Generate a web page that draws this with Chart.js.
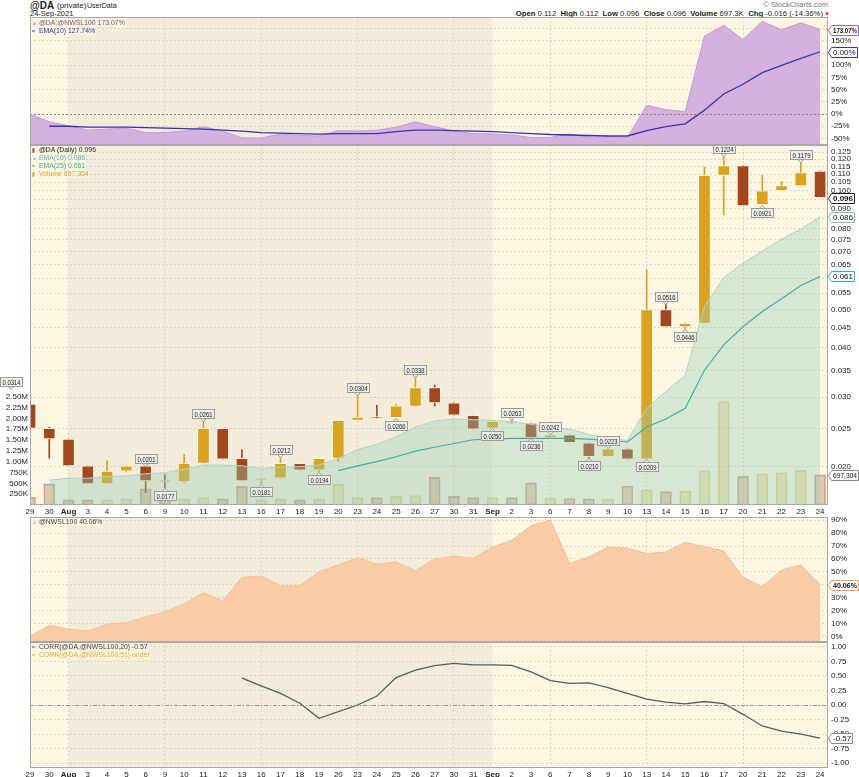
<!DOCTYPE html>
<html>
<head>
<meta charset="utf-8">
<title>@DA (Daily)</title>
<script src="https://cdn.jsdelivr.net/npm/chart.js@4.4.1/dist/chart.umd.min.js"></script>
<style>
	body { margin: 0; background: #fff; font-family: "Liberation Sans", Arial, sans-serif; color: #222; }
	#page { position: relative; width: 859px; height: 777px; overflow: hidden; }
	canvas { position: absolute; left: 0; }
	.t { position: absolute; white-space: nowrap; }
	.lg { position: absolute; left: 32px; font-size: 8px; line-height: 7px; white-space: nowrap; z-index: 3; }
	.lg div { background: rgba(253,246,228,0.6); display: table; padding-right: 1px; transform: scaleX(0.86); transform-origin: 0 0; }
	.ic { display: inline-block; width: 8px; font-size: 6px; }
</style>
</head>
<body>
<div id="page">
	<div class="t" style="left:30px;top:0px;font-size:10px;line-height:11px;font-weight:bold;">@DA</div>
	<div class="t" style="left:57px;top:1px;font-size:8px;line-height:9px;">(private)</div>
	<div class="t" style="left:87px;top:2px;font-size:7px;line-height:8px;">UserData</div>
	<div class="t" style="left:30px;top:10px;font-size:7.5px;line-height:8px;">24-Sep-2021</div>
	<div class="t" style="right:31px;top:1px;font-size:7.5px;line-height:8px;color:#777;">&copy; StockCharts.com</div>
	<div class="t" style="right:36px;top:10px;font-size:7.7px;line-height:8px;"><b>Open</b> 0.112&nbsp; <b>High</b> 0.112&nbsp; <b>Low</b> 0.096&nbsp; <b>Close</b> 0.096&nbsp; <b>Volume</b> 697.3K&nbsp; <b>Chg</b> -0.016 (-14.36%)</div>
	<div class="t" style="left:824px;top:11px;font-size:6px;line-height:7px;color:#c0392b;">&#9660;</div>

	<canvas id="ratio" width="859" height="128" style="top:17px"></canvas>
	<canvas id="main" width="859" height="372" style="top:145px"></canvas>
	<canvas id="nwsl" width="859" height="125" style="top:517px"></canvas>
	<canvas id="corr" width="859" height="135" style="top:642px"></canvas>

	<div class="lg" style="top:19px">
		<div style="color:#6d5a86"><span class="ic" style="color:#c69bd5">&#9650;</span>@DA:@NWSL100 173.07%</div>
		<div style="color:#3434b0"><span class="ic">&#9473;</span>EMA(10) 127.74%</div>
	</div>
	<div class="lg" style="top:146px">
		<div style="color:#222"><span class="ic" style="color:#a2481f">&#9646;</span>@DA (Daily) 0.096</div>
		<div style="color:#62b5a6"><span class="ic" style="color:#9fd0bc">&#9650;</span>EMA(10) 0.086</div>
		<div style="color:#3aa898"><span class="ic">&#9473;</span>EMA(25) 0.061</div>
		<div style="color:#d6a324"><span class="ic">&#9646;</span>Volume 697,304</div>
	</div>
	<div class="lg" style="top:518px">
		<div style="color:#444"><span class="ic" style="color:#f7b98c">&#9650;</span>@NWSL100 40.06%</div>
	</div>
	<div class="lg" style="top:643px">
		<div style="color:#444"><span class="ic" style="color:#4f5f60">&#9473;</span>CORR(@DA,@NWSL100,20) -0.57</div>
		<div style="color:#e0b030"><span class="ic">&#9473;</span>CORR(@DA,@NWSL100,51) undef</div>
	</div>
</div>
<script>
var dates = ['29', '30', 'Aug', '3', '4', '5', '6', '9', '10', '11', '12', '13', '16', '17', '18', '19', '20', '23', '24', '25', '26',
	'27', '30', '31', 'Sep', '2', '3', '6', '7', '8', '9', '10', '13', '14', '15', '16', '17', '20', '21', '22', '23', '24'];
var boldDates = ['Aug', 'Sep'];
var weekStarts = [2, 7, 12, 17, 22, 27, 32, 37];
var augBand = [2, 24];

// @DA daily candles
var opens = [0.0288, 0.0250, 0.0235, 0.0201, 0.0181, 0.0195, 0.0201, 0.0185, 0.0183, 0.0204, 0.0250, 0.0210, 0.0185, 0.0187,
	0.0204, 0.0196, 0.0210, 0.0262, 0.0268, 0.0266, 0.0284, 0.0317, 0.0290, 0.0270, 0.0250, 0.0261, 0.0258, 0.0237, 0.0241,
	0.0230, 0.0212, 0.0222, 0.0209, 0.0500, 0.0452, 0.0461, 0.1092, 0.1156, 0.0921, 0.0999, 0.1028, 0.112];
var highs = [0.0314, 0.0252, 0.0235, 0.0201, 0.0207, 0.0201, 0.0201, 0.0191, 0.0215, 0.0261, 0.0250, 0.0221, 0.0187, 0.0212,
	0.0204, 0.0210, 0.0262, 0.0304, 0.0286, 0.0288, 0.0338, 0.0322, 0.0290, 0.0270, 0.0261, 0.0263, 0.0258, 0.0242, 0.0241,
	0.0230, 0.0223, 0.0222, 0.0630, 0.0516, 0.0462, 0.1147, 0.1224, 0.1156, 0.1092, 0.1054, 0.1179, 0.112];
var lows = [0.0250, 0.0210, 0.0201, 0.0181, 0.0181, 0.0194, 0.0172, 0.0177, 0.0182, 0.0204, 0.0209, 0.0184, 0.0181, 0.0187,
	0.0196, 0.0194, 0.0206, 0.0262, 0.0265, 0.0266, 0.0284, 0.0285, 0.0270, 0.0249, 0.0250, 0.0258, 0.0236, 0.0237, 0.0230,
	0.0210, 0.0212, 0.0209, 0.0209, 0.0452, 0.0446, 0.0461, 0.0867, 0.0914, 0.0921, 0.0999, 0.1028, 0.096];
var closes = [0.0250, 0.0235, 0.0201, 0.0181, 0.0195, 0.0201, 0.0184, 0.0183, 0.0204, 0.0250, 0.0209, 0.0184, 0.0187, 0.0204,
	0.0196, 0.0210, 0.0262, 0.0267, 0.0265, 0.0285, 0.0317, 0.0290, 0.0270, 0.0249, 0.0261, 0.0258, 0.0237, 0.0241, 0.0230,
	0.0212, 0.0222, 0.0209, 0.0500, 0.0452, 0.0461, 0.1093, 0.1156, 0.0914, 0.0999, 0.1029, 0.1110, 0.096];
var volumes = [180000, 490000, 120000, 120000, 120000, 140000, 375000, 130000, 140000, 170000, 140000, 430000, 120000, 140000,
	120000, 140000, 475000, 170000, 170000, 200000, 220000, 640000, 200000, 170000, 170000, 170000, 510000, 160000, 150000,
	140000, 140000, 440000, 350000, 310000, 320000, 790000, 2390000, 660000, 720000, 745000, 800000, 697304];
var ema10Price = [null, 0.01848, 0.0187, 0.0187, 0.0189, 0.01895, 0.0192, 0.0193, 0.0197, 0.0202, 0.0202, 0.0201, 0.0198, 0.01995,
	0.0200, 0.0202, 0.0210, 0.0221, 0.0228, 0.0238, 0.0252, 0.0261, 0.0264, 0.0263, 0.0262, 0.0260, 0.0256, 0.0252, 0.0249,
	0.0241, 0.0237, 0.0233, 0.0281, 0.0310, 0.0341, 0.0508, 0.0602, 0.0655, 0.0703, 0.0753, 0.0799, 0.0858];
var ema25Price = [null, null, null, null, null, null, null, null, null, null, null, null, null, null, null, null,
	0.01955, 0.0201, 0.0206, 0.0212, 0.0219, 0.0224, 0.0229, 0.0234, 0.0235, 0.0236, 0.0236, 0.0236, 0.0236, 0.0235, 0.0233,
	0.0231, 0.0252, 0.0264, 0.0281, 0.0351, 0.0407, 0.0452, 0.0494, 0.0532, 0.0575, 0.0606];
var highMarks = [0, 6, 9, 13, 17, 20, 25, 27, 30, 33, 36, 40];
var lowMarks = [7, 12, 15, 19, 24, 26, 29, 32, 34, 38];

// @DA:@NWSL100 relative (%)
var ratio = [0, -16, -24, -33, -31, -29, -38, -38, -35, -26, -35, -49, -49, -41, -44, -45, -34, -35, -33, -27, -16, -26, -35,
	-40, -41, -43, -48, -48, -41, -47, -47, -48, 18, 9, 5, 160, 182, 153, 190, 173, 187, 173.07];
var ratioEma = [null, -25, -25, -27, -27, -27, -28, -29, -30, -31, -33, -35, -38, -39, -40, -41, -40, -40, -40, -36, -33, -33,
	-34, -35, -36, -38, -40, -42, -43, -44, -45, -45, -34, -26, -20, 8, 41, 61, 85, 100, 114, 127.74];

// @NWSL100 (%)
var nwsl = [0, 8.5, 5.7, 4.1, 9.3, 10.5, 15.2, 18.8, 25.3, 33.8, 27.4, 45.7, 46.7, 39.2, 39.2, 50.1, 55.3, 60.9, 56, 57.6, 50.9,
	60, 62, 60.5, 69.2, 74.4, 85.7, 90.2, 56.6, 61.5, 69.2, 68.4, 64.3, 65.3, 72.9, 69.5, 66.1, 45.7, 38.5, 51.4, 55.3, 40.06];

// CORR(@DA,@NWSL100,20)
var corr20 = [null, null, null, null, null, null, null, null, null, null, null, 0.46, 0.33, 0.20, 0.03, -0.23, -0.115, 0, 0.155,
	0.47, 0.60, 0.675, 0.715, 0.69, 0.69, 0.68, 0.57, 0.42, 0.37, 0.38, 0.30, 0.20, 0.10, 0.05, 0.02, 0.06, 0.025, -0.16, -0.36,
	-0.45, -0.50, -0.57];

var ratioTicks = [-50, -25, 0, 25, 50, 75, 100, 125, 150, 175];
var priceTicks = [0.020, 0.025, 0.030, 0.035, 0.040, 0.045, 0.050, 0.055, 0.060, 0.065, 0.070, 0.075, 0.080, 0.085, 0.090,
	0.095, 0.100, 0.105, 0.110, 0.115, 0.120, 0.125];
var volTicks = [250000, 500000, 750000, 1000000, 1250000, 1500000, 1750000, 2000000, 2250000, 2500000];
var nwslTicks = [0, 10, 20, 30, 40, 50, 60, 70, 80, 90];
var corrTicks = [-1, -0.75, -0.5, -0.25, 0, 0.25, 0.5, 0.75, 1];

var fam = '"Liberation Sans", Arial, sans-serif';
Chart.defaults.font.family = fam;
Chart.defaults.font.size = 8;
Chart.defaults.color = '#222';
Chart.defaults.animation = false;
Chart.defaults.events = [];
Chart.defaults.plugins.legend.display = false;
Chart.defaults.plugins.tooltip.enabled = false;

var xMax = 41.41;
var gridColor = 'rgba(175,165,145,0.38)';
var gold = '#d9a321', brown = '#a2481f';
var isUp = opens.map(function (o, i) { return closes[i] >= o; });

function pts(arr) {
	return arr.map(function (v, i) { return { x: i, y: v }; });
}

function xAxis(showLabels, height) {
	return {
		type: 'linear', min: 0, max: xMax, offset: false,
		afterBuildTicks: function (s) { s.ticks = dates.map(function (d, i) { return { value: i }; }); },
		afterFit: function (s) { s.height = height; s.paddingLeft = 0; s.paddingRight = 0; },
		grid: {
			offset: false, drawTicks: false,
			color: function (c) { return c.tick && weekStarts.indexOf(c.tick.value) >= 0 ? gridColor : 'rgba(0,0,0,0)'; }
		},
		border: { display: false, dash: [2, 2] },
		ticks: {
			display: showLabels, autoSkip: false, maxRotation: 0, padding: 2, color: '#222',
			font: function (c) {
				var b = c.tick && boldDates.indexOf(dates[c.tick.value]) >= 0;
				return { size: 8, family: fam, weight: b ? 'bold' : 'normal' };
			},
			callback: function (v) { return dates[v]; }
		}
	};
}

function yAxis(type, min, max, ticks, fmt) {
	return {
		type: type, position: 'right', min: min, max: max,
		afterBuildTicks: function (s) { s.ticks = ticks.map(function (v) { return { value: v }; }); },
		afterFit: function (s) { s.width = 31; s.paddingTop = 0; s.paddingBottom = 0; },
		grid: { drawTicks: false, color: gridColor },
		border: { display: false, dash: [2, 2] },
		ticks: { autoSkip: false, padding: 3, color: '#222', font: { size: 8, family: fam }, callback: fmt }
	};
}

function drawTag(ctx, x, y, text, color, bold) {
	ctx.save();
	ctx.font = (bold ? 'bold ' : '') + '8px ' + fam;
	var tw = Math.min(ctx.measureText(text).width, 24);
	var w = Math.round(tw) + 3, h = 10;
	y = Math.round(y) + 0.5;
	x = x + 0.5;
	ctx.beginPath();
	ctx.moveTo(x, y);
	ctx.lineTo(x + 3, y - h / 2);
	ctx.lineTo(x + 3 + w, y - h / 2);
	ctx.lineTo(x + 3 + w, y + h / 2);
	ctx.lineTo(x + 3, y + h / 2);
	ctx.closePath();
	ctx.fillStyle = '#fff';
	ctx.fill();
	ctx.strokeStyle = color;
	ctx.lineWidth = 1;
	ctx.stroke();
	ctx.fillStyle = '#111';
	ctx.textBaseline = 'middle';
	ctx.fillText(text, x + 4.5, y + 0.5, 24);
	ctx.restore();
}

function note(ctx, cx, py, text, above) {
	ctx.save();
	ctx.font = '7.5px ' + fam;
	var tw = Math.min(ctx.measureText(text).width, 18);
	var w = Math.round(tw) + 4, h = 9;
	var top = Math.round(above ? py - 3 - h : py + 3) + 0.5;
	var left = Math.round(cx - w / 2) + 0.5;
	var by = above ? top + h : top;
	ctx.fillStyle = 'rgba(238,238,232,0.95)';
	ctx.strokeStyle = '#9c9c9c';
	ctx.lineWidth = 1;
	ctx.beginPath();
	ctx.moveTo(cx - 3, by);
	ctx.lineTo(cx, above ? by + 3 : by - 3);
	ctx.lineTo(cx + 3, by);
	ctx.closePath();
	ctx.fill();
	ctx.stroke();
	ctx.fillRect(left, top, w, h);
	ctx.strokeRect(left, top, w, h);
	ctx.fillStyle = '#222';
	ctx.textAlign = 'center';
	ctx.textBaseline = 'middle';
	ctx.fillText(text, left + w / 2, top + h / 2 + 0.5, 18);
	ctx.restore();
}

function drawNotes(chart) {
	var ctx = chart.ctx, x = chart.scales.x, y = chart.scales.y, a = chart.chartArea;
	highMarks.forEach(function (i) {
		var px = x.getPixelForValue(i);
		// a mark on the left edge is pushed out beside the axis
		if (px < a.left + 12) px = a.left - 19;
		note(ctx, px, y.getPixelForValue(highs[i]), highs[i].toFixed(4), true);
	});
	lowMarks.forEach(function (i) {
		note(ctx, x.getPixelForValue(i), y.getPixelForValue(lows[i]), lows[i].toFixed(4), false);
	});
}

function panel(tags, zero, notes) {
	return {
		id: 'panel',
		beforeDraw: function (chart) {
			var a = chart.chartArea, ctx = chart.ctx, x = chart.scales.x;
			ctx.save();
			ctx.fillStyle = '#fdf6e3';
			ctx.fillRect(a.left, a.top, a.right - a.left, a.bottom - a.top);
			var x1 = x.getPixelForValue(augBand[0]), x2 = x.getPixelForValue(augBand[1]);
			ctx.fillStyle = '#f4ecdb';
			ctx.fillRect(x1, a.top, x2 - x1, a.bottom - a.top);
			ctx.restore();
		},
		afterDatasetsDraw: function (chart) {
			var a = chart.chartArea, ctx = chart.ctx;
			if (zero) {
				var y0 = Math.round(chart.scales.y.getPixelForValue(0)) + 0.5;
				ctx.save();
				ctx.strokeStyle = zero.color;
				ctx.setLineDash(zero.dash);
				ctx.lineWidth = 1;
				ctx.beginPath();
				ctx.moveTo(a.left, y0);
				ctx.lineTo(a.right, y0);
				ctx.stroke();
				ctx.restore();
			}
			if (notes) notes(chart);
		},
		afterDraw: function (chart) {
			var a = chart.chartArea, ctx = chart.ctx;
			ctx.save();
			ctx.strokeStyle = '#a9a9a9';
			ctx.lineWidth = 1;
			ctx.strokeRect(a.left + 0.5, a.top + 0.5, a.right - a.left - 1, a.bottom - a.top - 1);
			ctx.restore();
			tags.forEach(function (t) {
				drawTag(ctx, a.right, chart.scales[t.axis].getPixelForValue(t.value), t.text, t.color, t.bold);
			});
		}
	};
}

// top: relative strength panel
new Chart(document.getElementById('ratio'), {
	type: 'line',
	data: { datasets: [
		{ data: pts(ratioEma), borderColor: '#3434b0', borderWidth: 1.3, pointRadius: 0, order: 1, clip: 0 },
		{ data: pts(ratio), borderColor: '#c69bd5', borderWidth: 1, backgroundColor: '#d5b2de', fill: 'start', pointRadius: 0, order: 2, clip: 0 }
	] },
	options: {
		responsive: false,
		layout: { padding: { left: 30 }, autoPadding: false },
		scales: {
			x: xAxis(false, 0),
			y: yAxis('linear', -63.5, 199, ratioTicks, function (v) { return v + '%'; })
		}
	},
	plugins: [panel([
		{ axis: 'y', value: ratio[41], text: ratio[41].toFixed(2) + '%', color: '#9a6ab0', bold: true },
		{ axis: 'y', value: ratioEma[41], text: '0.00%', color: '#3434b0', bold: false }
	], { color: 'rgba(110,110,110,0.8)', dash: [2, 2] })]
});

// main: candles, EMAs and volume
var bodyData = opens.map(function (o, i) { return { x: i, y: [o, closes[i]] }; });
var wickData = lows.map(function (l, i) { return { x: i, y: [l, highs[i]] }; });
var candleColors = isUp.map(function (u) { return u ? gold : brown; });

new Chart(document.getElementById('main'), {
	type: 'bar',
	data: { datasets: [
		{ type: 'line', data: pts(ema25Price), borderColor: '#3db0a2', borderWidth: 1.2, pointRadius: 0, yAxisID: 'y', order: 1, clip: 0 },
		{ type: 'line', data: pts(ema10Price), borderColor: '#acd6c3', borderWidth: 1, backgroundColor: 'rgba(150,205,180,0.36)',
			fill: 'start', pointRadius: 0, yAxisID: 'y', order: 2, clip: 0 },
		{ data: bodyData, backgroundColor: candleColors, borderColor: 'rgba(255,246,222,0.9)', borderWidth: 1, borderSkipped: false,
			barThickness: 12, grouped: false, yAxisID: 'y', order: 3, clip: 0 },
		{ data: wickData, backgroundColor: candleColors, borderWidth: 0, barThickness: 1, grouped: false, yAxisID: 'y', order: 4, clip: 0 },
		{ data: pts(volumes), backgroundColor: isUp.map(function (u) { return u ? 'rgba(215,190,90,0.32)' : 'rgba(180,115,85,0.35)'; }),
			borderColor: isUp.map(function (u) { return u ? 'rgba(200,175,80,0.5)' : 'rgba(160,110,85,0.5)'; }),
			borderWidth: 1, borderSkipped: false, barThickness: 11, grouped: false, yAxisID: 'vol', order: 5, clip: 0 }
	] },
	options: {
		responsive: false,
		layout: { padding: 0, autoPadding: false },
		scales: {
			x: xAxis(true, 12),
			y: yAxis('logarithmic', 0.0160, 0.1304, priceTicks, function (v) { return v.toFixed(3); }),
			vol: {
				type: 'linear', position: 'left', min: 0, max: 8320000,
				afterBuildTicks: function (s) { s.ticks = volTicks.map(function (v) { return { value: v }; }); },
				afterFit: function (s) { s.width = 30; s.paddingTop = 0; s.paddingBottom = 0; },
				grid: { display: false, drawTicks: false },
				border: { display: false },
				ticks: {
					autoSkip: false, padding: 2, color: '#222', font: { size: 8, family: fam },
					callback: function (v) { return v >= 1000000 ? (v / 1000000).toFixed(2) + 'M' : (v / 1000) + 'K'; }
				}
			}
		}
	},
	plugins: [panel([
		{ axis: 'y', value: closes[41], text: closes[41].toFixed(3), color: '#222', bold: true },
		{ axis: 'y', value: ema10Price[41], text: ema10Price[41].toFixed(3), color: '#7cc4b2', bold: false },
		{ axis: 'y', value: ema25Price[41], text: ema25Price[41].toFixed(3), color: '#3db0a2', bold: false },
		{ axis: 'vol', value: volumes[41], text: volumes[41].toLocaleString('en-US'), color: '#888', bold: false }
	], null, drawNotes)]
});

// @NWSL100 panel
new Chart(document.getElementById('nwsl'), {
	type: 'line',
	data: { datasets: [
		{ data: pts(nwsl), borderColor: '#f7bf93', borderWidth: 1, backgroundColor: '#f9cba6', fill: 'start', pointRadius: 0, clip: 0 }
	] },
	options: {
		responsive: false,
		layout: { padding: { left: 30 }, autoPadding: false },
		scales: {
			x: xAxis(false, 0),
			y: yAxis('linear', -4.4, 92.5, nwslTicks, function (v) { return v + '%'; })
		}
	},
	plugins: [panel([
		{ axis: 'y', value: nwsl[41], text: nwsl[41].toFixed(2) + '%', color: '#f0a060', bold: true }
	], null, null)]
});

// correlation panel
new Chart(document.getElementById('corr'), {
	type: 'line',
	data: { datasets: [
		{ data: pts(corr20), borderColor: '#4f5f60', borderWidth: 1.3, pointRadius: 0, clip: 0 }
	] },
	options: {
		responsive: false,
		layout: { padding: { left: 30 }, autoPadding: false },
		scales: {
			x: xAxis(true, 9),
			y: yAxis('linear', -1.0825, 1.0825, corrTicks, function (v) { return v.toFixed(2); })
		}
	},
	plugins: [panel([
		{ axis: 'y', value: corr20[41], text: corr20[41].toFixed(2), color: '#888', bold: false }
	], { color: 'rgba(120,130,130,0.8)', dash: [4, 2, 1, 2] }, null)]
});
</script>
</body>
</html>
